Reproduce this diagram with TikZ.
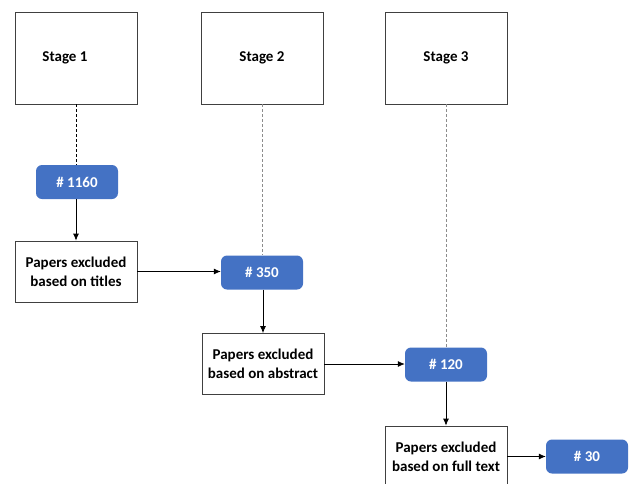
\documentclass[tikz,border=0pt]{standalone}
\usepackage{fontspec}
\setmainfont{Carlito}
\usetikzlibrary{arrows.meta}
\definecolor{boxblue}{HTML}{4472C4}
\tikzset{
  stagebox/.style={draw=black!75, line width=0.8pt, minimum width=122pt, minimum height=92pt, font=\bfseries\fontsize{15}{19}\selectfont, inner sep=0pt},
  exclbox/.style={draw=black!75, line width=0.8pt, minimum width=122pt, minimum height=61pt, align=center, font=\bfseries\fontsize{15}{19}\selectfont, inner sep=0pt},
  countbox/.style={fill=boxblue, rounded corners=6pt, minimum width=82pt, minimum height=34pt, text=white, font=\bfseries\fontsize{15}{18}\selectfont, inner sep=0pt},
  flow/.style={-{Latex[length=7pt,width=6pt]}, line width=0.8pt, black},
  guide/.style={dashed, line width=0.8pt, dash pattern=on 3pt off 2pt},
}
\begin{document}
\begin{tikzpicture}[x=1pt,y=-1pt]
\useasboundingbox (0,0) rectangle (630,483);
\begin{scope}
\clip (0,0) rectangle (630,483);
\node[stagebox] (s1) at (76,58) {\hspace*{-22pt}Stage 1};
\node[stagebox] (s2) at (262,58) {Stage 2};
\node[stagebox] (s3) at (446,58) {Stage 3};
\node[countbox] (c1) at (77,182) {\# 1160};
\node[exclbox] (e1) at (76,271.5) {Papers excluded\\based on titles};
\node[countbox] (c2) at (262,272.5) {\# 350};
\node[exclbox] (e2) at (263,364) {Papers excluded\\based on abstract};
\node[countbox] (c3) at (446,364.5) {\# 120};
\node[exclbox] (e3) at (446,456.5) {Papers excluded\\based on full text};
\node[countbox] (c4) at (587,456.5) {\# 30};
\draw[guide, black] (s1.south) -- (s1.south |- c1.north);
\draw[guide, black!45] (s2.south) -- (s2.south |- c2.north);
\draw[guide, black!45] (s3.south) -- (s3.south |- c3.north);
\draw[flow] (c1.south -| e1.north) -- (e1.north);
\draw[flow] (e1.east) -- (c2.west |- e1.east);
\draw[flow] (c2.south -| e2.north) -- (e2.north);
\draw[flow] (e2.east) -- (c3.west |- e2.east);
\draw[flow] (c3.south) -- (e3.north -| c3.south);
\draw[flow] (e3.east) -- (c4.west |- e3.east);
\end{scope}
\end{tikzpicture}
\end{document}
